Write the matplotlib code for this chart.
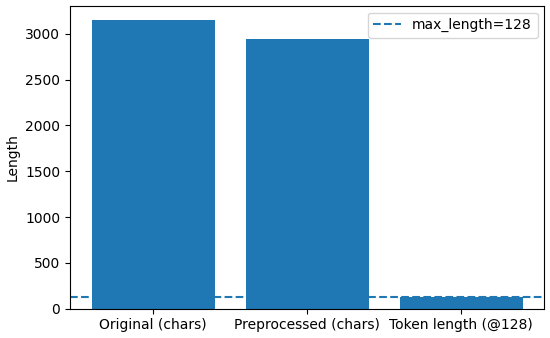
import matplotlib
matplotlib.use("Agg")
import matplotlib.pyplot as plt

# Donnees
categories = ['Original (chars)', 'Preprocessed (chars)', 'Token length (@128)']
lengths = [3150, 2948, 128]
max_length = 128

fig, ax = plt.subplots(figsize=(5.5, 3.38), dpi=100)
ax.bar(categories, lengths, color='#1f77b4')
ax.axhline(max_length, linestyle='--', color='#1f77b4', label='max_length=%d' % max_length)
ax.set_ylabel('Length')
ax.legend(loc='upper right')

fig.tight_layout(pad=0.4)
fig.savefig('out.png', dpi=100)
